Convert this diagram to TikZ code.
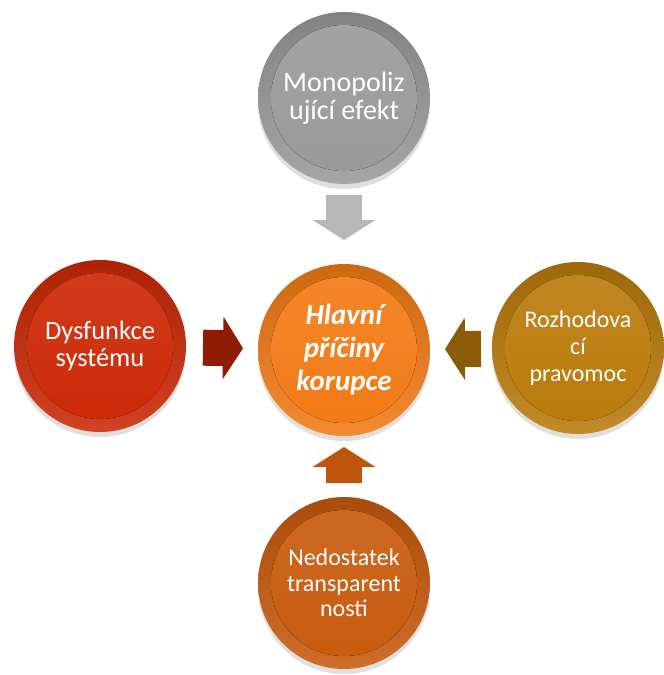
\documentclass[tikz,border=0pt]{standalone}
\usepackage{fontspec}
\setmainfont{Carlito}
\usetikzlibrary{shadows,arrows.meta}
\definecolor{monogray}{HTML}{999999}
\definecolor{huborange}{HTML}{F27A14}
\definecolor{dysfred}{HTML}{CC2806}
\definecolor{rozhgold}{HTML}{BA7A0A}
\definecolor{nedobrown}{HTML}{C85A0C}
\begin{document}
\begin{tikzpicture}[x=1pt,y=-1pt,
  bubble/.style={circle,minimum size=172pt,inner sep=0pt,outer sep=0pt,text=white,align=center,
    top color=#1!85!black,bottom color=#1!88!white,
    drop shadow={opacity=0.25,shadow xshift=0pt,shadow yshift=-5pt},
    path picture={\fill[top color=#1!90!white,bottom color=#1] (path picture bounding box.center) circle (73pt);}},
  blockarrow/.style={draw=#1,line width=36pt,-{Triangle[width=62pt,length=20pt]}}]
\useasboundingbox (0,0) rectangle (664,675);
\node[bubble=huborange,font=\fontsize{29}{33}\selectfont\bfseries\itshape] (hub) at (344,350) {Hlavní\\příčiny\\korupce};
\node[bubble=monogray,font=\fontsize{28}{28}\selectfont] (mono) at (344,98) {Monopoliz\\ující efekt};
\node[bubble=dysfred,font=\fontsize{26.5}{27}\selectfont] (dysf) at (100,346) {Dysfunkce\\systému};
\node[bubble=rozhgold,font=\fontsize{24}{27}\selectfont] (rozh) at (578,348) {Rozhodova\\cí\\pravomoc};
\node[bubble=nedobrown,font=\fontsize{24}{25.5}\selectfont] (nedo) at (344,583) {Nedostatek\\transparent\\nosti};
% arrows into the hub
\draw[blockarrow=black!28,shorten <=11pt,shorten >=24pt] (mono) -- (hub);
\draw[blockarrow=dysfred!70!black,shorten <=17pt,shorten >=15pt] (dysf) -- (hub);
\draw[blockarrow=rozhgold!75!black,shorten <=11pt,shorten >=15pt] (rozh) -- (hub);
\draw[blockarrow=nedobrown!95!black,shorten <=14pt,shorten >=11pt] (nedo) -- (hub);
\end{tikzpicture}
\end{document}
